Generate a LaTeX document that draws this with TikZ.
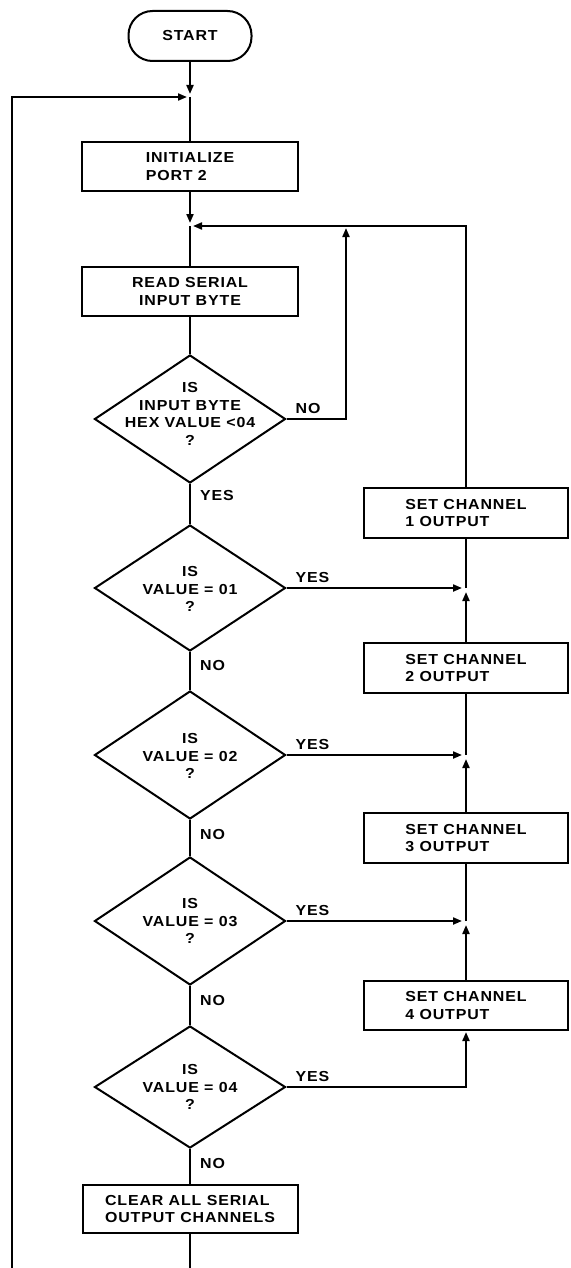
\documentclass[tikz,border=0pt]{standalone}
\usepackage{fontspec}
\setmainfont{Liberation Sans}[FakeStretch=1.1,LetterSpace=6]
\usetikzlibrary{shapes.geometric,arrows.meta,calc}
\begin{document}
\begin{tikzpicture}[x=1pt,y=-1pt,
  txt/.style={font=\bfseries\fontsize{14.5}{17.5}\selectfont},
  conn/.style={line width=2pt},
  flow/.style={line width=2pt,-{Triangle[length=9pt,width=7pt]}},
  box/.style={draw,line width=2pt,rectangle,inner sep=0pt,minimum width=216pt,minimum height=49pt,txt},
  sbox/.style={draw,line width=2pt,rectangle,inner sep=0pt,minimum width=204pt,minimum height=50pt,txt,align=left},
  dec/.style={draw,line width=2pt,diamond,inner sep=0pt,minimum width=191pt,minimum height=128pt},
  dtext/.style={txt,align=center,inner sep=0pt},
  lab/.style={txt,inner sep=0pt}
]
\useasboundingbox (0,0) rectangle (570,1268);
% main column
\node[draw,line width=2pt,rounded corners=24pt,minimum width=123pt,minimum height=50pt,inner sep=0pt,txt] (start) at (190,36) {START};
\coordinate (j1) at (190,97);
\node[box,align=left] (init) at (190,166.5) {INITIALIZE\\PORT 2};
\coordinate (j2) at (190,226);
\node[box,align=center] (read) at (190,291.5) {READ SERIAL\\INPUT BYTE};
\node[dec] (d1) at (190,419) {};
\node[dtext] (d1t) at (190,414) {IS\\INPUT BYTE\\HEX VALUE <04\\?};
\node[dec,minimum height=126pt] (d2) at (190,588) {};
\node[dtext] (d2t) at (190,589) {IS\\VALUE = 01\\?};
\node[dec] (d3) at (190,755) {};
\node[dtext] (d3t) at (190,756) {IS\\VALUE = 02\\?};
\node[dec] (d4) at (190,921) {};
\node[dtext] (d4t) at (190,921) {IS\\VALUE = 03\\?};
\node[dec,minimum height=122pt] (d5) at (190,1087) {};
\node[dtext] (d5t) at (190,1087) {IS\\VALUE = 04\\?};
\node[box,minimum width=215pt,minimum height=48pt,align=left] (clear) at (190,1209) {CLEAR ALL SERIAL\\OUTPUT CHANNELS};
% right column
\node[sbox] (s1) at (466,513) {SET CHANNEL\\1 OUTPUT};
\coordinate (k1) at (466,588);
\node[sbox] (s2) at (466,668) {SET CHANNEL\\2 OUTPUT};
\coordinate (k2) at (466,755);
\node[sbox] (s3) at (466,838) {SET CHANNEL\\3 OUTPUT};
\coordinate (k3) at (466,921);
\node[sbox,minimum height=49pt] (s4) at (466,1005.5) {SET CHANNEL\\4 OUTPUT};
\coordinate (n1) at (346,226);
\coordinate (lb) at (12,1300);
% connectors down the main column
\draw[flow,shorten >=3pt] (start.south) -- (j1);
\draw[conn] (j1) -- (init.north);
\draw[flow,shorten >=3pt] (init.south) -- (j2);
\draw[conn] (j2) -- (read.north);
\draw[conn] (read.south) -- (d1.north);
\draw[conn] (d1.south) -- (d2.north);
\draw[conn] (d2.south) -- (d3.north);
\draw[conn] (d3.south) -- (d4.north);
\draw[conn] (d4.south) -- (d5.north);
\draw[conn] (d5.south) -- (clear.north);
% labels
\node[lab,anchor=west] (l1) at ($(d1.south)+(10,12)$) {YES};
\node[lab,anchor=west] (l2) at ($(d2.south)+(10,14)$) {NO};
\node[lab,anchor=west] (l3) at ($(d3.south)+(10,14)$) {NO};
\node[lab,anchor=west] (l4) at ($(d4.south)+(10,14)$) {NO};
\node[lab,anchor=west] (l5) at ($(d5.south)+(10,14)$) {NO};
\node[lab,anchor=base west] (e1) at ($(d1.east)+(9,-6)$) {NO};
\node[lab,anchor=base west] (e2) at ($(d2.east)+(9,-6)$) {YES};
\node[lab,anchor=base west] (e3) at ($(d3.east)+(9,-6)$) {YES};
\node[lab,anchor=base west] (e4) at ($(d4.east)+(9,-6)$) {YES};
\node[lab,anchor=base west] (e5) at ($(d5.east)+(9,-6)$) {YES};
% NO loop back
\draw[flow,shorten >=2pt] (d1.east) -| (n1);
\draw[flow,shorten >=3pt] (s1.north) |- (j2);
% right column joins
\draw[flow,shorten >=4pt] (d2.east) -- (k1);
\draw[flow,shorten >=4pt] (s2.north) -- (k1);
\draw[conn] (k1) -- (s1.south);
\draw[flow,shorten >=4pt] (d3.east) -- (k2);
\draw[flow,shorten >=4pt] (s3.north) -- (k2);
\draw[conn] (k2) -- (s2.south);
\draw[flow,shorten >=4pt] (d4.east) -- (k3);
\draw[flow,shorten >=4pt] (s4.north) -- (k3);
\draw[conn] (k3) -- (s3.south);
\draw[flow,shorten >=1pt] (d5.east) -| (s4.south);
% outer loop
\draw[flow,shorten >=3pt] (clear.south) |- (lb) |- (j1);
\end{tikzpicture}
\end{document}
